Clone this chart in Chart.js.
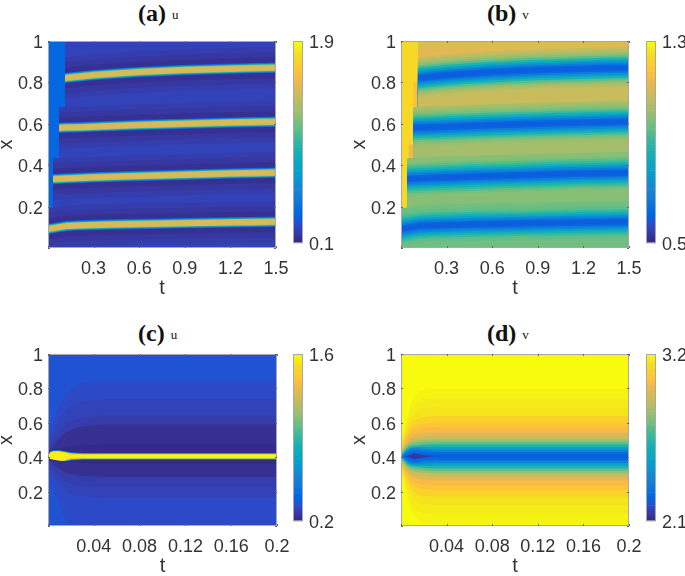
<!DOCTYPE html>
<html>
<head>
<meta charset="utf-8">
<script src="https://cdn.jsdelivr.net/npm/chart.js@4"></script>
<style>
  body { margin: 0; background: #fff; width: 685px; height: 576px; position: relative; overflow: hidden; }
  canvas { position: absolute; }
  .ttl { position: absolute; font-family: "Liberation Serif", serif; font-weight: bold; font-size: 24px; color: #111; white-space: nowrap; line-height: 26px; }
  .ttl span { font-weight: normal; font-size: 13px; margin-left: 6px; vertical-align: 2px; }
</style>
</head>
<body>
<div class="ttl" style="left:138px;top:0px">(a)<span>u</span></div>
<div class="ttl" style="left:487px;top:0px">(b)<span>v</span></div>
<div class="ttl" style="left:138px;top:320px">(c)<span>u</span></div>
<div class="ttl" style="left:487px;top:320px">(d)<span>v</span></div>
<script>
// colour map of the figure
const parula = [[.2081,.1663,.5292],[.2116,.1898,.5777],[.2123,.2138,.6270],[.2081,.2386,.6771],[.1959,.2645,.7279],[.1707,.2919,.7792],[.1253,.3242,.8303],[.0591,.3598,.8683],[.0117,.3875,.8820],[.0060,.4086,.8828],[.0165,.4266,.8786],[.0329,.4430,.8720],[.0498,.4586,.8641],[.0629,.4737,.8554],[.0723,.4887,.8467],[.0779,.5040,.8384],[.0793,.5200,.8312],[.0749,.5375,.8263],[.0641,.5570,.8240],[.0488,.5772,.8228],[.0343,.5966,.8199],[.0265,.6137,.8135],[.0239,.6287,.8038],[.0231,.6418,.7913],[.0228,.6535,.7768],[.0267,.6642,.7607],[.0384,.6743,.7436],[.0590,.6838,.7254],[.0843,.6928,.7062],[.1133,.7015,.6859],[.1453,.7098,.6646],[.1801,.7177,.6424],[.2178,.7250,.6193],[.2586,.7317,.5954],[.3022,.7376,.5712],[.3482,.7424,.5473],[.3953,.7459,.5244],[.4420,.7481,.5033],[.4871,.7491,.4840],[.5300,.7491,.4661],[.5709,.7485,.4494],[.6099,.7473,.4337],[.6473,.7456,.4188],[.6834,.7435,.4044],[.7184,.7411,.3905],[.7525,.7384,.3768],[.7858,.7356,.3633],[.8185,.7327,.3498],[.8507,.7299,.3360],[.8824,.7274,.3217],[.9139,.7258,.3063],[.9450,.7261,.2886],[.9739,.7314,.2666],[.9938,.7455,.2403],[.9990,.7653,.2164],[.9955,.7861,.1967],[.9880,.8066,.1794],[.9789,.8271,.1633],[.9697,.8481,.1475],[.9626,.8705,.1309],[.9589,.8949,.1132],[.9598,.9218,.0948],[.9661,.9514,.0755],[.9763,.9831,.0538]]

// colour bar limits
const rangeA = [0.1, 1.9]
const rangeB = [0.5, 1.3]
const rangeC = [0.2, 1.6]
const rangeD = [2.1, 3.2]

// (a), (b): position of the four narrow layers, read along t, bottom one first
const layerTa = [[0,.12,.2,.3,.45,.6,.75,.9,1.05,1.2,1.35,1.5],[.033,.12,.2,.3,.45,.6,.75,.9,1.05,1.2,1.35,1.5],[.072,.12,.2,.3,.45,.6,.75,.9,1.05,1.2,1.35,1.5],[.112,.12,.2,.3,.45,.6,.75,.9,1.05,1.2,1.35,1.5]]
const layerTb = [[.005,.12,.2,.3,.45,.6,.75,.9,1.05,1.2,1.35,1.5],[.04,.12,.2,.3,.45,.6,.75,.9,1.05,1.2,1.35,1.5],[.08,.12,.2,.3,.45,.6,.75,.9,1.05,1.2,1.35,1.5],[.11,.12,.2,.3,.45,.6,.75,.9,1.05,1.2,1.35,1.5]]
const layer1 = [.092,.106,.109,.111,.114,.116,.118,.12,.122,.124,.125,.127]
const layer2 = [.333,.336,.338,.341,.345,.348,.351,.354,.357,.36,.362,.364]
const layer3 = [.58,.582,.583,.586,.59,.594,.597,.6,.603,.606,.608,.61]
const layer4 = [.82,.822,.828,.835,.843,.85,.855,.86,.863,.866,.869,.871]

// (a): values across a layer, from its centre outwards
const offsA = [.009,.013,.016,.019,.022,.025,.05,.075,.1]
const profA = [1.47,1.47,1.25,.9,.55,.3,.12,.15,.18]
const gapsA = [.2,.2,.2,.2,.22]

// (b): values across a layer, from its centre outwards
const offsB = [.008,.016,.024,.032,.04,.05,.06,.07,.08,.09,.1]
const profB = [
  [.59,.61,.66,.72,.79,.85,.9,.94,.96,.97,.97],
  [.59,.61,.66,.72,.79,.85,.9,.95,.98,.99,1.0],
  [.59,.61,.66,.72,.79,.86,.92,.97,1.0,1.02,1.03],
  [.59,.61,.66,.73,.8,.87,.94,.99,1.03,1.06,1.08]
]
const gapsB = [.97,1.0,1.03,1.09,1.12]

// (c): contour lines, read at these t
const tC = [0,.002,.005,.01,.015,.02,.03,.05,.2]
const cLow = [
  [.33,.27,.2,.12,.04,-.02,-.1,-.1,-.1],
  [.37,.33,.29,.24,.2,.185,.17,.163,.163],
  [.385,.36,.33,.29,.26,.245,.23,.227,.227],
  [.39,.375,.355,.33,.31,.3,.29,.285,.285],
  [.395,.385,.375,.36,.35,.34,.335,.33,.33],
  [.4,.39,.385,.38,.375,.37,.365,.36,.36],
  [.403,.375,.369,.369,.375,.381,.385,.385,.385],
  [.404,.378,.372,.372,.378,.385,.389,.389,.389],
  [.405,.381,.375,.375,.381,.389,.393,.393,.393],
  [.405,.387,.38,.38,.388,.399,.396,.394,.394]
]
const cHigh = [
  [.405,.423,.43,.43,.422,.411,.414,.416,.416],
  [.405,.429,.435,.435,.429,.421,.417,.417,.417],
  [.406,.432,.438,.438,.432,.425,.421,.421,.421],
  [.407,.435,.441,.441,.435,.429,.425,.425,.425],
  [.41,.44,.445,.45,.46,.465,.47,.475,.475],
  [.415,.43,.45,.48,.5,.51,.525,.53,.53],
  [.42,.44,.47,.51,.54,.56,.58,.59,.59],
  [.43,.46,.5,.55,.59,.61,.63,.645,.645],
  [.45,.49,.55,.62,.67,.7,.725,.74,.74],
  [.48,.54,.62,.71,.76,.8,.835,.845,.845]
]
const cVals = [.344,.311,.278,.256,.233,.216,.2,.5,.95,1.5,1.58,1.5,.95,.5,.2,.216,.233,.256,.278,.311,.344]

// (d): contour lines as distance from x = 0.405, outermost first
const tD = [0,.002,.005,.008,.012,.016,.02,.03,.05,.2]
const dOffs = [
  [.08,.14,.23,.3,.35,.38,.39,.395,.395,.395],
  [.07,.12,.2,.26,.3,.32,.33,.335,.335,.335],
  [.06,.105,.17,.22,.255,.27,.28,.285,.285,.285],
  [.05,.09,.145,.185,.21,.225,.23,.235,.235,.235],
  [.04,.075,.12,.155,.175,.185,.19,.195,.195,.195],
  [.035,.065,.105,.135,.15,.16,.165,.17,.17,.17],
  [.03,.055,.09,.11,.125,.13,.135,.14,.14,.14],
  [.025,.045,.075,.095,.105,.11,.115,.12,.12,.12],
  [.02,.04,.065,.08,.09,.092,.095,.1,.1,.1],
  [.015,.03,.055,.07,.075,.08,.082,.085,.085,.085],
  [.01,.022,.045,.058,.062,.065,.068,.07,.07,.07],
  [.005,.015,.035,.048,.052,.054,.055,.055,.055,.055],
  [0,.01,.03,.042,.048,.046,.042,.04,.04,.04],
  [0,.003,.02,.032,.036,.034,.03,.025,.025,.025],
  [0,0,.008,.02,.024,.02,.016,.012,.012,.012],
  [0,0,0,.008,.016,.012,.006,0,0,0]
]
const dVals = [3.2,3.19,3.17,3.14,3.1,3.05,3.01,2.96,2.9,2.82,2.73,2.61,2.48,2.36,2.27,2.24,2.135]

const tickFont = { family: "Liberation Sans", size: 18 }
const textCol = "#333333"

function shade(v, range) {
    let i = Math.round((v - range[0]) / (range[1] - range[0]) * 63)
    i = Math.max(0, Math.min(63, i))
    let c = parula[i]
    return `rgb(${Math.round(c[0] * 255)},${Math.round(c[1] * 255)},${Math.round(c[2] * 255)})`
}

// every edge fills down to the bottom, lower edges paint over the higher ones
function layerEdges(ts, layers, offs, profs, gaps) {
    let out = []
    layers.forEach((xs, k) => {
        let p = profs[k], n = offs.length
        for (let i = n - 1; i >= 0; i--) {
            out.push({ pts: ts[k].map((t, j) => ({ x: t, y: xs[j] - offs[i] })), v: i == n - 1 ? gaps[k] : p[i + 1] })
        }
        for (let i = 0; i < n; i++) {
            out.push({ pts: ts[k].map((t, j) => ({ x: t, y: xs[j] + offs[i] })), v: p[i] })
        }
    })
    let last = ts[ts.length - 1]
    out.push({ pts: last.map(t => ({ x: t, y: 1 })), v: gaps[gaps.length - 1] })
    return out
}

function rowEdge(ts, row, v) {
    return { pts: ts.map((t, j) => ({ x: t, y: row[j] })), v: v }
}

function bandSets(edges, range) {
    return edges.map(e => {
        let col = shade(e.v, range)
        return { data: e.pts, fill: "origin", backgroundColor: col, borderColor: col, borderWidth: 0, pointRadius: 0 }
    })
}

// block of one colour behind the bands
function block(t0, t1, x0, x1, v, range) {
    let col = shade(v, range)
    return [
        { data: [{ x: t0, y: x0 }, { x: t1, y: x0 }], fill: false, borderWidth: 0, pointRadius: 0, borderColor: col },
        { data: [{ x: t0, y: x1 }, { x: t1, y: x1 }], fill: "-1", backgroundColor: col, borderColor: col, borderWidth: 0, pointRadius: 0 }
    ]
}

const boxPlugin = {
    id: "box",
    afterDatasetsDraw(chart) {
        let a = chart.chartArea, g = chart.ctx
        g.save()
        g.strokeStyle = "#a8a8a8"
        g.lineWidth = 1
        g.strokeRect(a.left + .5, a.top + .5, a.right - a.left - 1, a.bottom - a.top - 1)
        if (chart.config.type == "line") {
            g.strokeStyle = "#666666"
            g.beginPath()
            chart.scales.x.ticks.forEach(t => {
                let p = Math.round(chart.scales.x.getPixelForValue(t.value)) + .5
                g.moveTo(p, a.bottom); g.lineTo(p, a.bottom - 2)
                g.moveTo(p, a.top); g.lineTo(p, a.top + 2)
            })
            chart.scales.y.ticks.forEach(t => {
                let p = Math.round(chart.scales.y.getPixelForValue(t.value)) + .5
                g.moveTo(a.left, p); g.lineTo(a.left + 2, p)
                g.moveTo(a.right, p); g.lineTo(a.right - 2, p)
            })
            g.stroke()
        }
        g.restore()
    }
}

function addCanvas(left, top, w, h) {
    let c = document.createElement("canvas")
    c.width = w
    c.height = h
    c.style.left = left + "px"
    c.style.top = top + "px"
    document.body.appendChild(c)
    return c
}

function panel(left, top, plotW, plotH, tMax, tStep, sets) {
    return new Chart(addCanvas(left, top, 48 + plotW + 24, 41 + plotH + 52), {
        type: "line",
        data: { datasets: sets },
        plugins: [boxPlugin],
        options: {
            responsive: false,
            animation: false,
            events: [],
            layout: { autoPadding: false, padding: { top: 41, right: 24 } },
            plugins: { legend: { display: false }, tooltip: { enabled: false } },
            scales: {
                x: {
                    type: "linear", min: 0, max: tMax,
                    grid: { display: false, drawTicks: false }, border: { display: false },
                    ticks: { stepSize: tStep, font: tickFont, color: textCol, padding: 10, maxRotation: 0, autoSkip: false,
                        callback: v => v == 0 ? "" : String(+v.toFixed(2)) },
                    title: { display: true, text: "t", font: { family: "Liberation Sans", size: 20 }, color: textCol, padding: 0 },
                    afterFit(s) { s.height = 52 }
                },
                y: {
                    min: 0, max: 1,
                    grid: { display: false, drawTicks: false }, border: { display: false },
                    ticks: { stepSize: .2, font: tickFont, color: textCol, padding: 5, labelOffset: 2,
                        callback: v => v == 0 ? "" : String(+v.toFixed(1)) },
                    title: { display: true, text: "x", font: { family: "Liberation Sans", size: 20, lineHeight: .6 }, color: textCol, padding: 0 },
                    afterFit(s) { s.width = 48 }
                }
            }
        }
    })
}

function colorBar(left, top, plotH, range) {
    let step = (range[1] - range[0]) / parula.length
    let sets = parula.map((c, i) => ({
        data: [[range[0] + i * step, range[0] + (i + 1) * step]],
        backgroundColor: shade(range[0] + (i + .5) * step, range),
        grouped: false, barPercentage: 1, categoryPercentage: 1
    }))
    return new Chart(addCanvas(left, top, 50, 41 + plotH + 12), {
        type: "bar",
        data: { labels: ["c"], datasets: sets },
        plugins: [boxPlugin],
        options: {
            responsive: false,
            animation: false,
            events: [],
            layout: { autoPadding: false, padding: { top: 41, bottom: 12 } },
            plugins: { legend: { display: false }, tooltip: { enabled: false } },
            scales: {
                x: { display: false },
                y: {
                    position: "right", min: range[0], max: range[1],
                    grid: { display: false, drawTicks: false }, border: { display: false },
                    afterBuildTicks(s) { s.ticks = [{ value: range[0] }, { value: range[1] }] },
                    ticks: { font: tickFont, color: textCol, padding: 6, labelOffset: 2, callback: v => String(v) },
                    afterFit(s) { s.width = 40 }
                }
            }
        }
    })
}

// (a)
let setsA = bandSets(layerEdges(layerTa, [layer1, layer2, layer3, layer4], offsA, [profA, profA, profA, profA], gapsA), rangeA)
setsA = setsA.concat(block(0, 1.5, 0, 1, .36, rangeA))
panel(0, 0, 228, 207, 1.5, .3, setsA)
colorBar(293, 0, 207, rangeA)

// (b)
let setsB = bandSets(layerEdges(layerTb, [layer1, layer2, layer3, layer4], offsB, profB, gapsB), rangeB)
setsB = setsB.concat(block(.08, .125, .6, .8, 1.17, rangeB), block(.05, .085, .38, .5, 1.15, rangeB), block(0, 1.5, 0, 1, 1.24, rangeB))
panel(353, 0, 228, 207, 1.5, .3, setsB)
colorBar(646, 0, 207, rangeB)

// (c)
let rowsC = cLow.concat(cHigh)
let edgesC = rowsC.map((r, i) => rowEdge(tC, r, cVals[i]))
edgesC.push(rowEdge(tC, [1, 1, 1, 1, 1, 1, 1, 1, 1], cVals[20]))
panel(0, 313, 229, 172, .2, .04, bandSets(edgesC, rangeC))
colorBar(293, 313, 172, rangeC)

// (d)
let edgesD = []
dOffs.forEach((r, i) => edgesD.push(rowEdge(tD, r.map(o => .405 - o), dVals[i])))
for (let i = dOffs.length - 1; i >= 0; i--) {
    edgesD.push(rowEdge(tD, dOffs[i].map(o => .405 + o), dVals[i + 1]))
}
edgesD.push(rowEdge(tD, [1, 1, 1, 1, 1, 1, 1, 1, 1, 1], dVals[0]))
panel(353, 313, 228, 172, .2, .04, bandSets(edgesD, rangeD))
colorBar(646, 313, 172, rangeD)
</script>
</body>
</html>
